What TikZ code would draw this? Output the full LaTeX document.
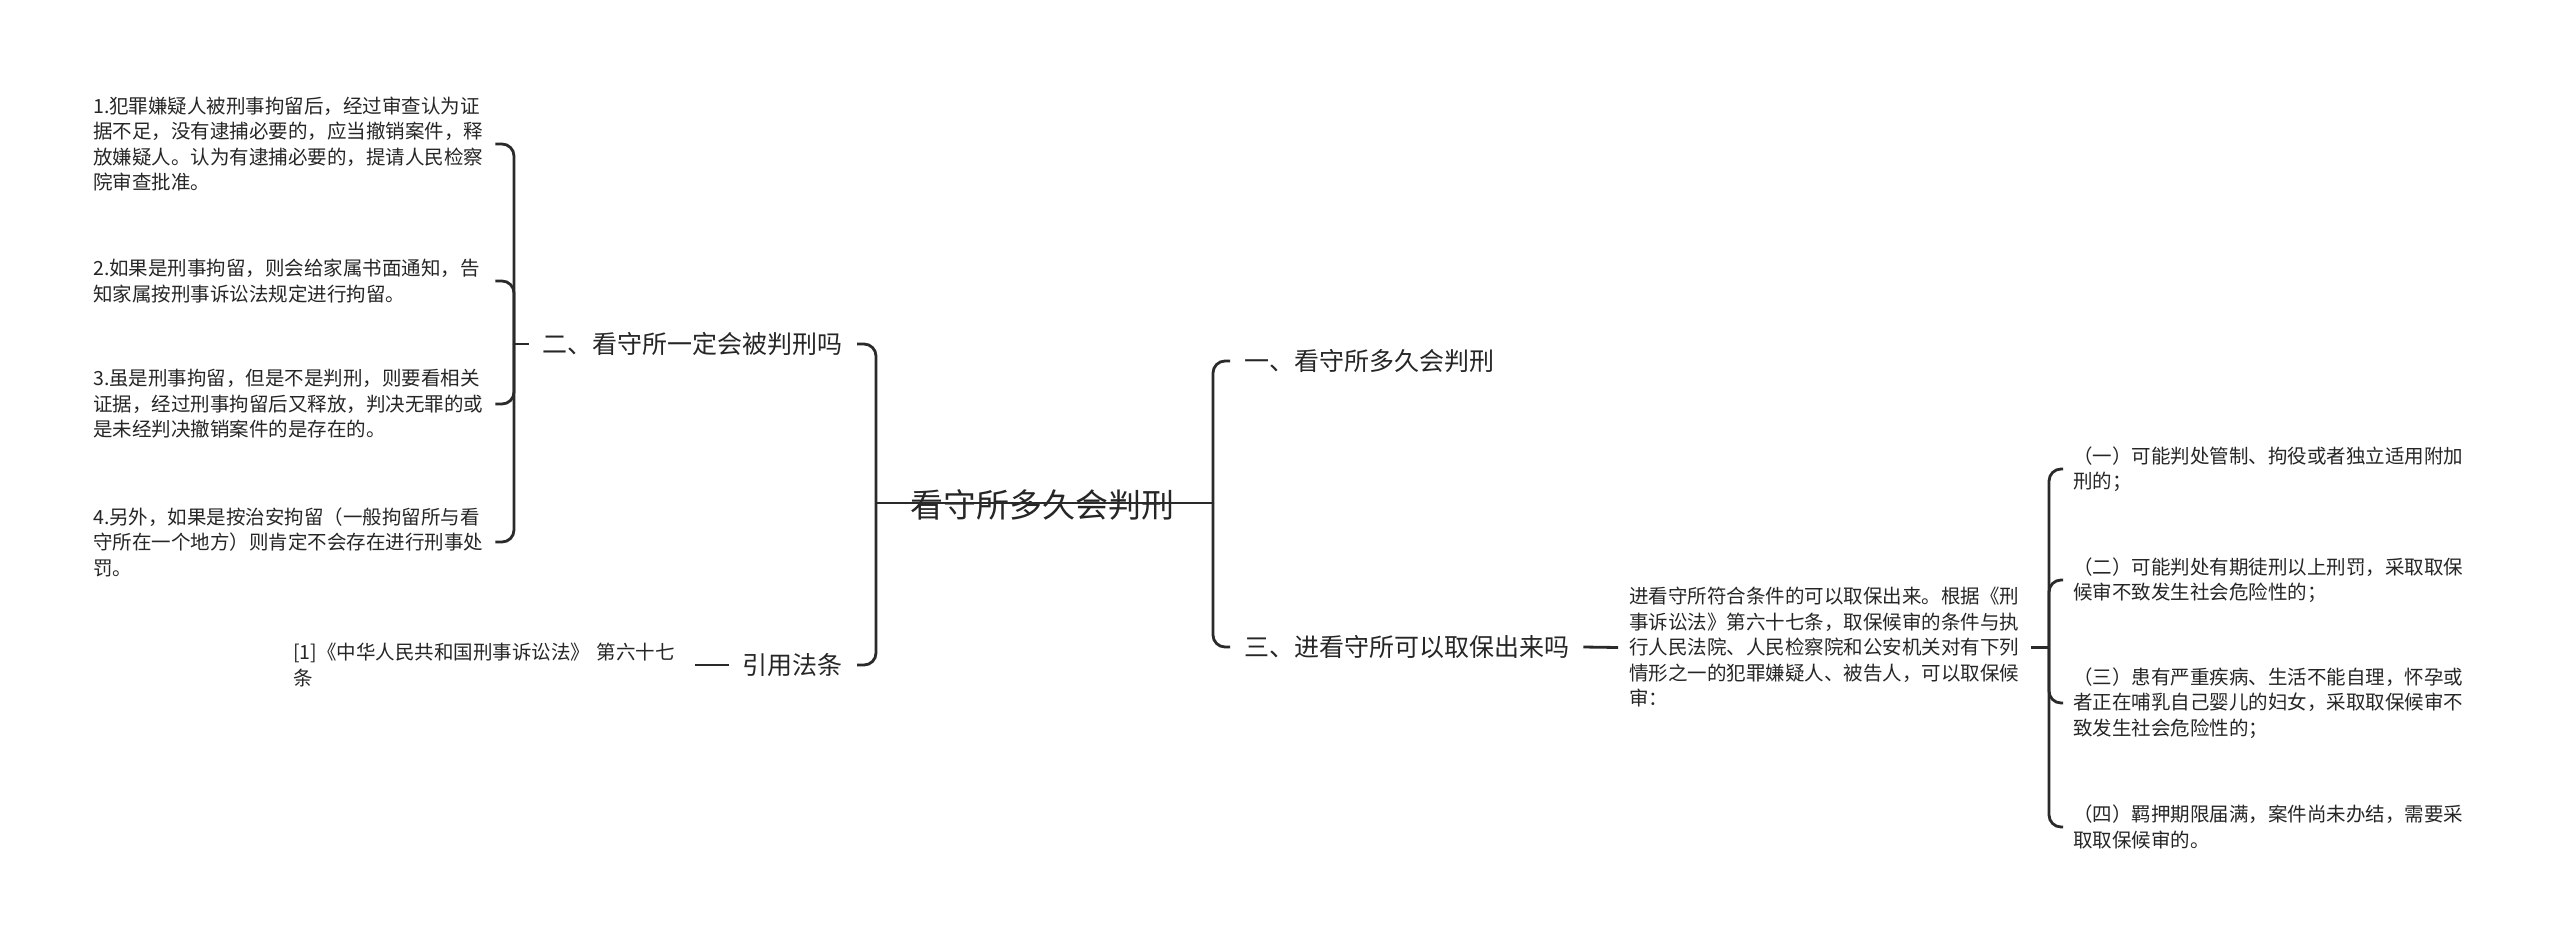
\documentclass[tikz,border=0pt]{standalone}
\usepackage{fontspec}
\setmainfont{Noto Sans CJK SC}
\definecolor{linec}{HTML}{2A2A2A}
\definecolor{txt}{HTML}{262626}
\begin{document}
\begin{tikzpicture}[x=1pt,y=-1pt,
  conn/.style={draw=linec, line width=2.8pt, rounded corners=12pt},
  small/.style={font=\fontsize{19.5}{25.5}\selectfont, text=txt, align=left, inner ysep=2pt, inner xsep=6pt, text width=396pt},
  mid/.style={font=\fontsize{25}{30}\selectfont, text=txt, inner xsep=14pt},
  rootst/.style={font=\fontsize{33}{38}\selectfont, text=txt, inner sep=0pt}]
\useasboundingbox (0,0) rectangle (2560,946);
\fill[white] (0,0) rectangle (2560,946);

% root
\node[rootst] (root) at (1042,505) {看守所多久会判刑};
\coordinate (lb) at (876,503);
\coordinate (rb) at (1213,503);

% right branch
\node[mid, anchor=west] (n1) at (1230,361) {一、看守所多久会判刑};
\node[mid, anchor=west] (n3) at (1230,647) {三、进看守所可以取保出来吗};
\node[small, anchor=west, inner xsep=11pt, text width=391pt] (para) at (1618,647.5) {进看守所符合条件的可以取保出来。根据《刑\\事诉讼法》第六十七条，取保候审的条件与执\\行人民法院、人民检察院和公安机关对有下列\\情形之一的犯罪嫌疑人、被告人，可以取保候\\审：};
\coordinate (pb) at (2049,647.5);
\node[small, anchor=west, inner xsep=10pt, text width=392pt] (c1) at (2063,469) {（一）可能判处管制、拘役或者独立适用附加\\刑的；};
\node[small, anchor=west, inner xsep=10pt, text width=392pt] (c2) at (2063,580) {（二）可能判处有期徒刑以上刑罚，采取取保\\候审不致发生社会危险性的；};
\node[small, anchor=west, inner xsep=10pt, text width=392pt] (c3) at (2063,703) {（三）患有严重疾病、生活不能自理，怀孕或\\者正在哺乳自己婴儿的妇女，采取取保候审不\\致发生社会危险性的；};
\node[small, anchor=west, inner xsep=10pt, text width=392pt] (c4) at (2063,827) {（四）羁押期限届满，案件尚未办结，需要采\\取取保候审的。};

% left branch
\node[mid, anchor=east] (n2) at (857,344) {二、看守所一定会被判刑吗};
\node[mid, anchor=east] (n4) at (857,665) {引用法条};
\coordinate (qb) at (514,344);
\node[small, anchor=west] (i1) at (87,144) {1.犯罪嫌疑人被刑事拘留后，经过审查认为证\\据不足，没有逮捕必要的，应当撤销案件，释\\放嫌疑人。认为有逮捕必要的，提请人民检察\\院审查批准。};
\node[small, anchor=west] (i2) at (87,281) {2.如果是刑事拘留，则会给家属书面通知，告\\知家属按刑事诉讼法规定进行拘留。};
\node[small, anchor=west] (i3) at (87,404) {3.虽是刑事拘留，但是不是判刑，则要看相关\\证据，经过刑事拘留后又释放，判决无罪的或\\是未经判决撤销案件的是存在的。};
\node[small, anchor=west] (i4) at (87,542) {4.另外，如果是按治安拘留（一般拘留所与看\\守所在一个地方）则肯定不会存在进行刑事处\\罚。};
\node[small, anchor=west, text width=396pt] (ref) at (287,665) {[1]《中华人民共和国刑事诉讼法》 第六十七\\条};

% connectors
\draw[conn] (lb) -- (rb);
\draw[conn] (lb) |- (n2.east);
\draw[conn] (lb) |- (n4.east);
\draw[conn] (rb) |- (n1.west);
\draw[conn] (rb) |- (n3.west);
\draw[conn] (n3.east) -- (para.west);
\draw[conn] (para.east) -- (pb);
\draw[conn] (pb) |- (c1.west);
\draw[conn] (pb) |- (c2.west);
\draw[conn] (pb) |- (c3.west);
\draw[conn] (pb) |- (c4.west);
\draw[conn] (n2.west) -- (qb);
\draw[conn] (qb) |- (i1.east);
\draw[conn] (qb) |- (i2.east);
\draw[conn] (qb) |- (i3.east);
\draw[conn] (qb) |- (i4.east);
\draw[conn] (n4.west) -- (ref.east);
\end{tikzpicture}
\end{document}
